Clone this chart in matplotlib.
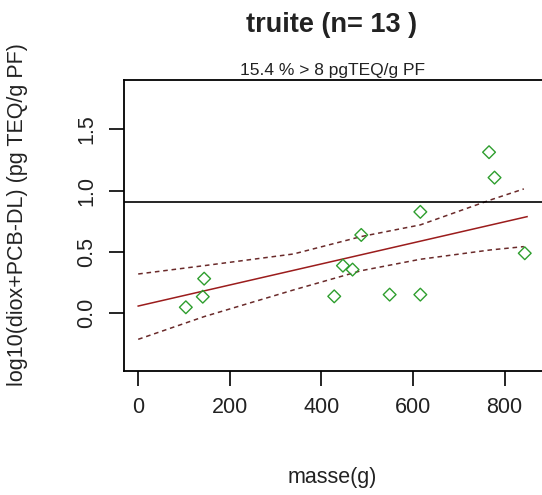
import matplotlib.pyplot as plt

plt.rcParams['font.family'] = ['Liberation Sans', 'DejaVu Sans']

# fish mass (g) and log10 of dioxin + PCB-DL content
masse = [104, 144, 141, 428, 447, 468, 487, 549, 616, 616, 766, 778, 844]
logteq = [0.049, 0.282, 0.135, 0.138, 0.388, 0.356, 0.638, 0.152, 0.152,
          0.826, 1.312, 1.105, 0.489]
seuil = 0.903  # log10(8)

# regression line and its confidence band
fit_x = [0, 849]
fit_y = [0.059, 0.787]
band_x = [0, 144, 339, 487, 616, 769, 842]
band_hi = [0.320, 0.388, 0.483, 0.625, 0.720, 0.923, 1.013]
band_lo = [-0.212, -0.027, 0.190, 0.347, 0.440, 0.516, 0.543]

xticks = [0, 200, 400, 600, 800]
yticks = [0.0, 0.5, 1.0, 1.5]
ylabels = ['0.0', '0.5', '1.0', '1.5']

fig = plt.figure(figsize=(5.42, 4.95), dpi=100)
ax = fig.add_axes([124 / 542, 124 / 495, 420 / 542, 291 / 495])

ax.plot(fit_x, fit_y, color='#9b1c1c', lw=1.1)
ax.plot(band_x, band_hi, color='#6a2a2a', lw=1.1, ls=(0, (3, 2.5)))
ax.plot(band_x, band_lo, color='#6a2a2a', lw=1.1, ls=(0, (3, 2.5)))
ax.scatter(masse, logteq, marker='D', s=42, facecolors='none',
           edgecolors='#2e9e2e', linewidths=1.0, zorder=3)
ax.axhline(seuil, color='black', lw=1.2)

ax.set_xlim(-31, 886)
ax.set_ylim(-0.47, 1.90)
ax.set_xticks(xticks)
ax.set_yticks(yticks)
ax.set_yticklabels(ylabels, rotation=90, va='center')
ax.tick_params(axis='both', direction='out', length=11, width=1.2,
               labelsize=15.5, colors='black', labelcolor='#222222', pad=8)
for sp in ax.spines.values():
    sp.set_linewidth(1.3)
ax.spines['right'].set_visible(False)

fig.text(332 / 542, 1 - 25 / 495, 'truite (n= 13 )', ha='center', va='center',
         fontsize=19.5, fontweight='bold', color='#222222')
fig.text(332 / 542, 1 - 71 / 495, '15.4 % > 8 pgTEQ/g PF', ha='center',
         va='center', fontsize=12.5, color='#222222')
fig.text(332 / 542, 1 - 478 / 495, 'masse(g)', ha='center', va='center',
         fontsize=15.5, color='#222222')
fig.text(18 / 542, 1 - 215 / 495, 'log10(diox+PCB-DL) (pg TEQ/g PF)',
         ha='center', va='center', rotation=90, fontsize=15.5,
         color='#222222')

fig.savefig('out.png', dpi=100)
